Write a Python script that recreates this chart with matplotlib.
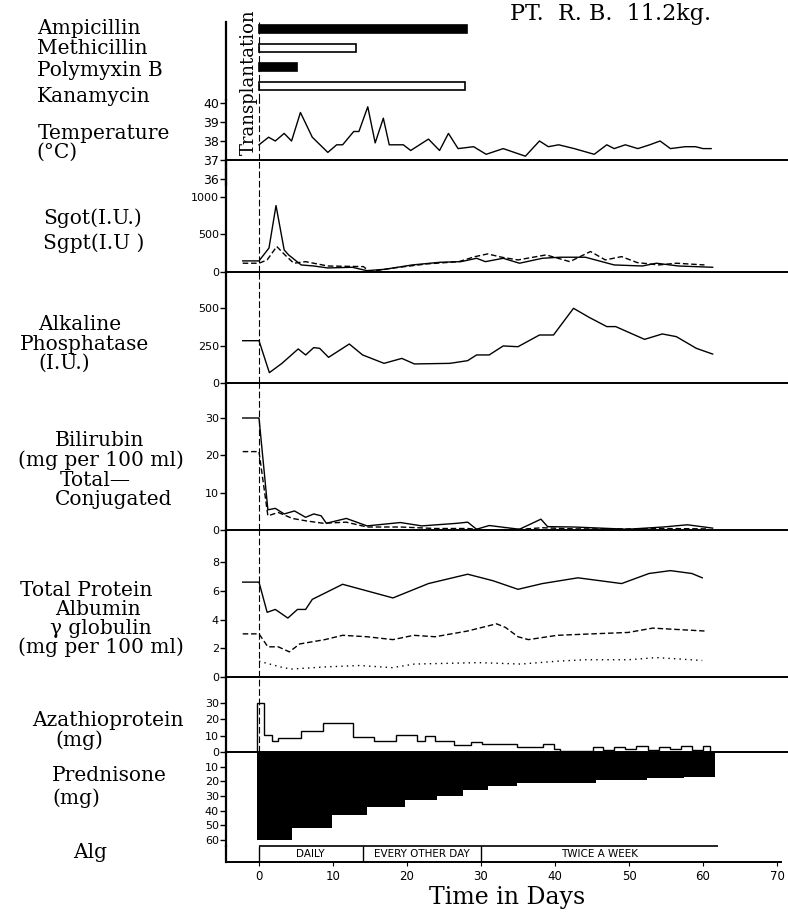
import matplotlib.pyplot as plt

# Antibiotiques (jours de traitement)
abx_names = ['Ampicillin', 'Methicillin', 'Polymyxin B', 'Kanamycin']
abx_start = [0, 0, 0, 0]
abx_end = [28.1, 13.1, 5.2, 27.8]
abx_filled = [True, False, True, False]

# Temperature (°C)
temp_day = [0, 1.3, 2.2, 3.4, 4.4, 5.6, 7.2, 9.3, 10.5, 11.3, 12.8, 13.5, 14.7, 15.7, 16.8,
            17.6, 18.8, 19.5, 20.5, 22.9, 24.4, 25.6, 26.9, 29, 30.7, 33, 36, 37.9, 39.1,
            40.5, 42.6, 45.3, 47, 48, 49.5, 51.2, 52.8, 54.2, 55.6, 57.6, 59, 60, 61.1]
temp_val = [37.8, 38.2, 38.0, 38.4, 38.0, 39.5, 38.2, 37.4, 37.8, 37.8, 38.5, 38.5, 39.8, 37.9,
            39.2, 37.8, 37.8, 37.8, 37.5, 38.1, 37.5, 38.4, 37.6, 37.7, 37.3, 37.6, 37.2, 38.0,
            37.7, 37.8, 37.6, 37.3, 37.8, 37.6, 37.8, 37.6, 37.8, 38.0, 37.6, 37.7, 37.7, 37.6, 37.6]

# SGOT / SGPT (I.U.)
sgot_day = [-2.2, 0, 1.35, 2.3, 3.4, 4.0, 5.7, 7.4, 9.3, 12.6, 14.6, 17, 20.7, 24.5, 27.3,
            29.4, 30.6, 33, 35.2, 38.3, 40.7, 44.1, 48, 51.8, 53.7, 56.7, 61.3]
sgot_val = [148, 148, 320, 886, 295, 228, 94, 80, 54, 63, 18, 36, 94, 130, 138, 183, 138, 183,
            117, 183, 197, 197, 94, 80, 117, 80, 63]
sgpt_day = [-2.2, 0, 1.1, 2.4, 3.5, 4.7, 6.3, 9.3, 14.1, 15, 17.9, 22.7, 27, 29.2, 30.9, 32.8,
            35, 38.8, 42, 44.8, 46.8, 49, 51.1, 54, 56.4, 60.2]
sgpt_val = [117, 117, 161, 340, 228, 117, 138, 80, 72, 4, 50, 108, 138, 205, 241, 197, 161, 228,
            138, 273, 161, 205, 126, 94, 117, 94]

# Phosphatase alcaline (I.U.)
alk_day = [-2.2, 0, 1.4, 3.1, 5.3, 6.3, 7.4, 8.2, 9.4, 12.2, 14, 16.9, 19.3, 21, 25.8, 28.2,
           29.4, 31.1, 33, 35, 37.9, 39.8, 42.5, 44.6, 47, 48.2, 52.1, 54.5, 56.4, 59.1, 61.3]
alk_val = [282, 282, 69, 131, 227, 187, 236, 231, 171, 260, 187, 131, 164, 127, 131, 149, 187,
           187, 247, 242, 320, 320, 498, 438, 376, 376, 291, 327, 309, 231, 193]

# Bilirubine (mg/100 ml)
bili_t_day = [-2.2, 0, 1.2, 2.2, 3.4, 4.8, 6.3, 7.4, 8.4, 9.1, 11.8, 14.6, 19.1, 22, 26.8, 28.2,
              29.4, 31.1, 35.2, 38.1, 39, 42.6, 49.8, 54.6, 57.9, 61.3]
bili_t_val = [30, 30, 5.4, 5.8, 4.3, 5.1, 3.4, 4.3, 3.8, 1.8, 3.1, 1.1, 2.0, 1.1, 1.8, 2.1, 0.2,
              1.2, 0.2, 2.9, 0.9, 0.8, 0.2, 0.8, 1.4, 0.5]
bili_c_day = [-2.2, 0, 1.2, 2.6, 4.5, 6.5, 8.7, 11.8, 14.6, 19.1, 23.9, 28.2, 30.6, 35.4, 38.3,
              42.6, 49.8, 54.6, 60.5]
bili_c_val = [21, 21, 3.8, 4.7, 3.1, 2.4, 1.8, 2.1, 0.8, 0.8, 0.4, 0.4, 0, 0.2, 0.6, 0.3, 0.3,
              0.4, 0.3]

# Proteines (mg/100 ml)
prot_day = [-2.2, 0, 1.1, 2.2, 3.9, 5.2, 6.3, 7.2, 11.3, 18.1, 22.9, 28.2, 31.6, 35, 38.3, 43.1,
            49, 52.7, 55.6, 58.5, 59.9]
prot_val = [6.6, 6.6, 4.5, 4.7, 4.1, 4.7, 4.7, 5.4, 6.45, 5.5, 6.5, 7.15, 6.7, 6.1, 6.5, 6.9,
            6.5, 7.2, 7.4, 7.2, 6.9]
alb_day = [-2.2, 0, 1.2, 2.6, 4.1, 5.5, 8.9, 11.3, 14.6, 18.1, 20.9, 23.8, 28.2, 32.1, 33.3, 35,
           36.4, 40.3, 45, 49.9, 53.2, 60.2]
alb_val = [3.0, 3.0, 2.1, 2.1, 1.75, 2.3, 2.6, 2.9, 2.8, 2.6, 2.9, 2.8, 3.2, 3.7, 3.45, 2.8, 2.6,
           2.9, 3.0, 3.1, 3.4, 3.2]
gam_day = [0, 2.9, 4.3, 8.9, 13.6, 18, 21, 29.7, 35.4, 40.3, 44.1, 49.9, 53.7, 59.9]
gam_val = [1.1, 0.7, 0.55, 0.7, 0.8, 0.65, 0.9, 1.0, 0.9, 1.1, 1.2, 1.2, 1.35, 1.15]

# Azathioprine (mg) - paliers
aza_edges = [-0.3, 0.7, 1.7, 2.5, 5.7, 8.6, 12.7, 15.5, 18.5, 21.4, 22.4, 23.8, 26.4, 28.7, 30.2,
             34.9, 38.4, 39.8, 40.7, 45.2, 46.5, 48, 49.5, 51, 52.5, 54, 55.5, 57, 58.5, 60, 61]
aza_val = [30, 10.5, 7, 8.5, 13, 17.5, 9, 7, 10.5, 6.5, 10, 7, 4, 6, 5, 3.3, 5, 2, 0.5, 3.3,
           1.5, 3, 2, 3.5, 1.5, 3, 2, 3.5, 1.5, 3.5]

# Prednisone (mg) - paliers
pred_edges = [-0.3, 4.4, 9.8, 14.55, 19.7, 24, 27.5, 31, 34.8, 45.6, 52.4, 57.4, 61.6]
pred_val = [60, 52, 43, 37.6, 32.6, 30, 26, 23, 21.3, 19, 17.9, 16.8]

# ALG
alg_edges = [0, 14, 30, 62]
alg_labels = ['DAILY', 'EVERY OTHER DAY', 'TWICE A WEEK']

W, H = 788, 913
AX_L, AX_R = 226, 788
DAY0_PX, PX_PER_DAY = 259, 7.4
SERIF = 'DejaVu Serif'

fig = plt.figure(figsize=(W / 100, H / 100), dpi=100)


def panel(top, bot, v0, p0, v1, p1, bottom=True):
    # axes placee en pixels, echelle y donnee par deux reperes (valeur, pixel)
    s = (p0 - p1) / (v1 - v0)
    ax = fig.add_axes([AX_L / W, 1 - bot / H, (AX_R - AX_L) / W, (bot - top) / H])
    ax.set_xlim((AX_L - DAY0_PX) / PX_PER_DAY, (AX_R - DAY0_PX) / PX_PER_DAY)
    ax.set_ylim(v0 - (bot - p0) / s, v0 + (p0 - top) / s)
    ax.patch.set_alpha(0)
    ax.spines['top'].set_visible(False)
    ax.spines['right'].set_visible(False)
    ax.spines['bottom'].set_visible(bottom)
    ax.spines['left'].set_linewidth(1.6)
    ax.spines['bottom'].set_linewidth(1.4)
    ax.set_xticks([])
    ax.tick_params(axis='y', direction='out', length=4, width=1, labelsize=8, pad=1)
    return ax


def label(x, y, s, size=14.5):
    fig.text(x / W, 1 - y / H, s, family=SERIF, size=size, va='center', ha='left')


def transplant(ax):
    ax.axvline(0, color='black', lw=0.8, ls=(0, (6, 2.5)))


LW = 1.0

# antibiotiques
ax = panel(22, 100, 0, 86, 3, 29, bottom=False)
rows = [3, 2, 1, 0]
for r, s0, s1, f in zip(rows, abx_start, abx_end, abx_filled):
    ax.barh(r, s1 - s0, left=s0, height=0.42, color='black' if f else 'white',
            edgecolor='black', lw=1.2)
ax.set_yticks([])
transplant(ax)

# temperature
ax = panel(100, 185, 37, 160, 40, 103, bottom=False)
ax.plot(temp_day, temp_val, color='black', lw=LW)
ax.axhline(37, color='black', lw=1.4)
ax.set_yticks([36, 37, 38, 39, 40])
ax.tick_params(axis='y', labelsize=9)
ax.set_ylim(ax.get_ylim())
ax.plot([0, 0], [37, 41], color='black', lw=0.8, ls=(0, (6, 2.5)))

# sgot / sgpt
ax = panel(160, 272, 0, 272, 1000, 197)
ax.plot(sgot_day, sgot_val, color='black', lw=LW)
ax.plot(sgpt_day, sgpt_val, color='black', lw=LW, ls=(0, (4, 2)))
ax.set_yticks([0, 500, 1000])
transplant(ax)

# phosphatase alcaline
ax = panel(272, 383, 0, 383, 500, 308)
ax.plot(alk_day, alk_val, color='black', lw=LW)
ax.set_yticks([0, 250, 500])
transplant(ax)

# bilirubine
ax = panel(383, 530, 0, 530, 30, 418)
ax.plot(bili_t_day, bili_t_val, color='black', lw=LW)
ax.plot(bili_c_day, bili_c_val, color='black', lw=LW, ls=(0, (4, 2)))
ax.set_yticks([0, 10, 20, 30])
transplant(ax)

# proteines
ax = panel(530, 677, 0, 677, 8, 562)
ax.plot(prot_day, prot_val, color='black', lw=LW)
ax.plot(alb_day, alb_val, color='black', lw=LW, ls=(0, (4, 2)))
ax.plot(gam_day, gam_val, color='black', lw=LW, ls=(0, (1, 3)))
ax.set_yticks([0, 2, 4, 6, 8])
transplant(ax)

# azathioprine
ax = panel(677, 752, 0, 752, 30, 703)
ax.stairs(aza_val, aza_edges, baseline=0, color='black', lw=LW)
ax.set_yticks([0, 10, 20, 30])
transplant(ax)

# prednisone (vers le bas)
ax = panel(752, 846, 0, 752, 60, 840, bottom=False)
ax.stairs(pred_val, pred_edges, baseline=0, fill=True, color='black')
ax.set_yticks([10, 20, 30, 40, 50, 60])

# ALG + axe du temps
ax = panel(846, 862, 0, 862, 1, 846)
ax.hlines(1, alg_edges[0], alg_edges[-1], color='black', lw=1.2, clip_on=False)
ax.vlines(alg_edges[:-1], 0, 1, color='black', lw=1.0)
for a, b, t in zip(alg_edges[:-1], alg_edges[1:], alg_labels):
    ax.text((a + b) / 2, 0.5, t, ha='center', va='center', size=7.5)
ax.set_yticks([])
ax.set_xticks(range(0, 71, 10))
ax.tick_params(axis='x', direction='out', length=3, labelsize=8.5, pad=3)
ax.spines['bottom'].set_bounds(ax.get_xlim()[0], 70.5)
ax.set_xlabel('Time in Days', family=SERIF, size=17, labelpad=2)

# textes
fig.text(510 / W, 1 - 14 / H, 'PT.  R. B.  11.2kg.', family=SERIF, size=16, va='center')
fig.text(249 / W, 1 - 82 / H, 'Transplantation', family=SERIF, size=13, rotation=90,
         va='center', ha='center')
for name, y in zip(abx_names, [28, 49, 70, 96]):
    label(37, y, name)
label(38, 133, 'Temperature')
label(36, 152, '(°C)')
label(43, 218, 'Sgot(I.U.)')
label(43, 243, 'Sgpt(I.U )')
label(38, 325, 'Alkaline')
label(20, 345, 'Phosphatase')
label(38, 363, '(I.U.)')
label(55, 440, 'Bilirubin')
label(18, 460, '(mg per 100 ml)')
label(60, 480, 'Total—')
label(55, 499, 'Conjugated')
label(20, 590, 'Total Protein')
label(55, 609, 'Albumin')
label(50, 628, 'γ globulin')
label(18, 647, '(mg per 100 ml)')
label(32, 720, 'Azathioprotein')
label(55, 740, '(mg)')
label(52, 775, 'Prednisone')
label(52, 798, '(mg)')
label(73, 852, 'Alg')

fig.savefig('out.png', dpi=100)
